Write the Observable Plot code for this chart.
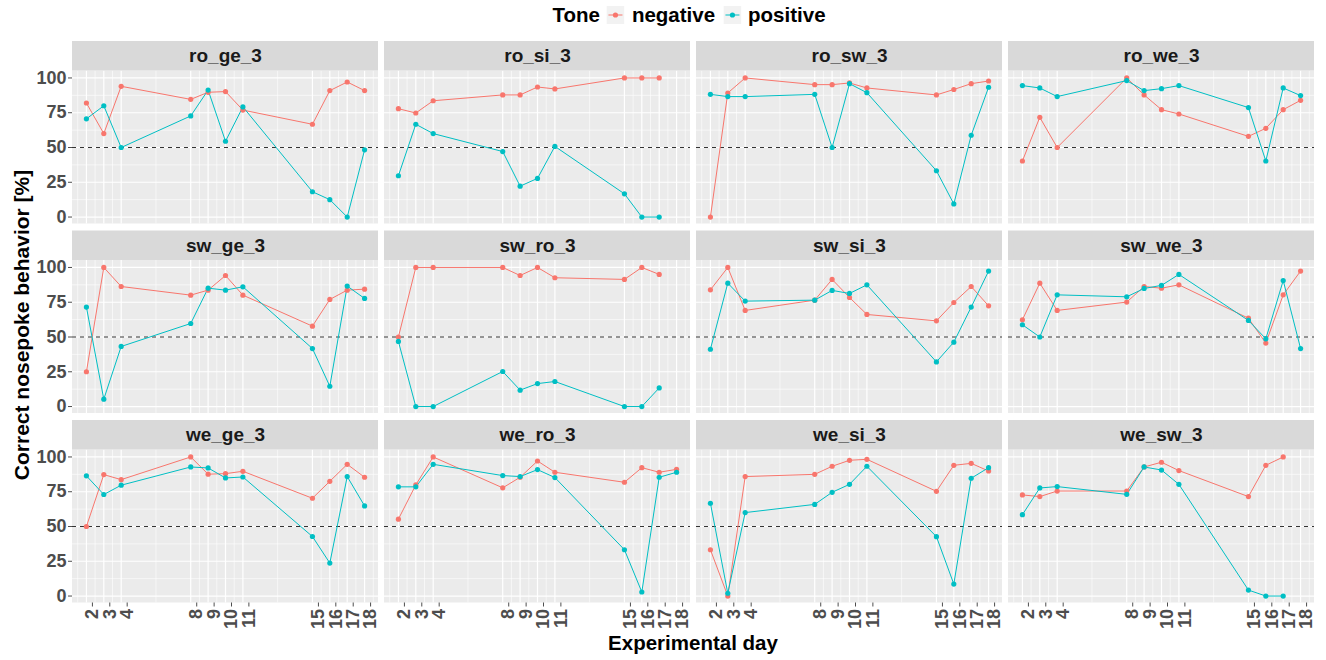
<!DOCTYPE html>
<html>
<head>
<meta charset="utf-8">
<script src="https://cdn.jsdelivr.net/npm/d3@7"></script>
<script src="https://cdn.jsdelivr.net/npm/@observablehq/plot@0.6"></script>
<style>
  html, body { margin: 0; padding: 0; background: #ffffff; }
  body { font-family: "Liberation Sans", Arial, sans-serif; }
  #wrap { position: relative; width: 1326px; height: 660px; overflow: hidden; }
  #chart { position: absolute; left: 0; top: 0; }
  #legend { position: absolute; top: 1px; left: 693px; transform: translateX(-50%); display: flex; align-items: center; font-weight: bold; font-size: 20.5px; color: #000; white-space: nowrap; height: 28px; }
  #legend .title { margin-right: 7px; }
  #legend .key { width: 18px; height: 18px; margin: 0 7px 0 0; display: inline-block; }
  #legend .lab { margin-right: 8px; }
  #ytitle { position: absolute; left: 22px; top: 325px; transform: translate(-50%, -50%) rotate(-90deg); font-weight: bold; font-size: 21px; color: #000; white-space: nowrap; }
  #xtitle { position: absolute; left: 693px; top: 643px; transform: translate(-50%, -50%); font-weight: bold; font-size: 20.5px; color: #000; white-space: nowrap; }
</style>
</head>
<body>
<div id="wrap">
  <div id="chart"></div>
  <div id="legend"></div>
  <div id="ytitle">Correct nosepoke behavior [%]</div>
  <div id="xtitle">Experimental day</div>
</div>
<script>
// ---------------- data ----------------
const days = [2, 3, 4, 8, 9, 10, 11, 15, 16, 17, 18];
const panelNames = ["ro_ge_3", "ro_si_3", "ro_sw_3", "ro_we_3",
                    "sw_ge_3", "sw_ro_3", "sw_si_3", "sw_we_3",
                    "we_ge_3", "we_ro_3", "we_si_3", "we_sw_3"];
const tones = ["negative", "positive"];
const toneColors = ["#F8766D", "#00BFC4"];
const yBreaks = [0, 25, 50, 75, 100];

const ro_ge_3_negative = [82, 60, 94, 84.6, 89.7, 90.2, 76.9, 66.7, 90.9, 97.1, 90.9];
const ro_ge_3_positive = [70.6, 80, 50, 72.7, 91.3, 54.5, 79.2, 18.2, 12.5, 0, 48.3];
const ro_si_3_negative = [77.9, 74.8, 83.6, 87.8, 87.8, 93.5, 92.1, 100, 100, 100];
const ro_si_3_positive = [29.7, 66.7, 60, 47.1, 22.2, 27.8, 50.8, 16.7, 0, 0];
const ro_sw_3_negative = [0, 89.2, 100, 95.2, 95.2, 96.4, 92.8, 87.8, 91.7, 95.9, 97.8];
const ro_sw_3_positive = [88.2, 86.6, 86.6, 88.2, 50, 95.9, 89.4, 33.3, 9.4, 58.8, 93.3];
const ro_we_3_negative = [40.3, 71.7, 50, 100, 87.8, 77.2, 74.1, 58, 63.8, 77.2, 83.9];
const ro_we_3_positive = [94.5, 92.8, 86.6, 98.1, 90.9, 92.3, 94.5, 78.7, 40.3, 92.8, 87.3];
const sw_ge_3_negative = [25, 100, 86.3, 80.1, 83.7, 94.2, 80.1, 57.8, 77, 83.7, 84.4];
const sw_ge_3_positive = [71.5, 5.3, 43.2, 59.7, 85.1, 83.7, 86.1, 41.7, 14.6, 86.6, 77.7];
const sw_ro_3_negative = [50, 100, 100, 100, 94.2, 100, 92.6, 91.4, 100, 95];
const sw_ro_3_positive = [46.8, 0, 0, 25.2, 11.8, 16.5, 18, 0, 0, 13.4];
const sw_si_3_negative = [83.9, 100, 69.1, 76.5, 91.4, 78.4, 66.2, 61.6, 74.8, 86.3, 72.4];
const sw_si_3_positive = [41.2, 88.7, 75.8, 76.5, 83.5, 81.3, 87.5, 32.1, 46.3, 71.5, 97.4];
const sw_we_3_negative = [62.4, 88.7, 69.1, 75.1, 86.3, 85.1, 87.5, 63.5, 45.6, 80.3, 97.4];
const sw_we_3_positive = [58.8, 50, 80.3, 78.9, 84.9, 87.1, 95, 61.9, 48.7, 90.6, 41.7];
const we_ge_3_negative = [50, 87.3, 83.7, 100, 87.6, 88, 89.7, 70.3, 82.5, 94.7, 85.4];
const we_ge_3_positive = [86.4, 73, 79.7, 92.8, 92.1, 84.9, 85.6, 42.8, 23.7, 85.9, 64.8];
const we_ro_3_negative = [55.3, 79.9, 100, 77.8, 85.4, 97.1, 89, 81.8, 92.3, 89, 91.1];
const we_ro_3_positive = [78.5, 78.5, 94.7, 86.6, 85.9, 90.9, 85.2, 33.3, 2.9, 85.4, 89];
const we_si_3_negative = [33.3, 0, 85.9, 87.5, 93.3, 97.6, 98.3, 75.3, 94, 95.4, 89.9];
const we_si_3_positive = [66.7, 2, 60, 65.9, 74.6, 80.3, 93.3, 42.7, 8.6, 84.7, 92.3];
const we_sw_3_negative = [72.7, 71.5, 75.5, 75.5, 92.8, 96.2, 90.2, 71.5, 94, 100];
const we_sw_3_positive = [58.5, 77.7, 78.7, 73.1, 92.8, 90.6, 80.3, 4.3, 0, 0];

const seriesByPanel = {
  ro_ge_3: [ro_ge_3_negative, ro_ge_3_positive],
  ro_si_3: [ro_si_3_negative, ro_si_3_positive],
  ro_sw_3: [ro_sw_3_negative, ro_sw_3_positive],
  ro_we_3: [ro_we_3_negative, ro_we_3_positive],
  sw_ge_3: [sw_ge_3_negative, sw_ge_3_positive],
  sw_ro_3: [sw_ro_3_negative, sw_ro_3_positive],
  sw_si_3: [sw_si_3_negative, sw_si_3_positive],
  sw_we_3: [sw_we_3_negative, sw_we_3_positive],
  we_ge_3: [we_ge_3_negative, we_ge_3_positive],
  we_ro_3: [we_ro_3_negative, we_ro_3_positive],
  we_si_3: [we_si_3_negative, we_si_3_positive],
  we_sw_3: [we_sw_3_negative, we_sw_3_positive]
};

// ---------------- tables ----------------
const nCols = 4;
const panelTable = panelNames.map((name, i) => ({panel: name, col: i % nCols, row: Math.floor(i / nCols)}));
const table = [];
panelTable.forEach(p => {
  seriesByPanel[p.panel].forEach((vals, t) => {
    vals.forEach((v, j) => table.push({panel: p.panel, col: p.col, row: p.row, tone: tones[t], day: days[j], value: v}));
  });
});

// ---------------- scales (ggplot-like expansion) ----------------
const xPad = (d3.max(days) - d3.min(days)) * 0.05;
const xDomain = [d3.min(days) - xPad, d3.max(days) + xPad];
const yPad = (d3.max(yBreaks) - d3.min(yBreaks)) * 0.05;
const yLo = d3.min(yBreaks) - yPad, yHi = d3.max(yBreaks) + yPad;
const step = days[1] - days[0];
const extDays = [days[0] - step, ...days, days[days.length - 1] + step];
const minorX = d3.pairs(extDays).map(([a, b]) => (a + b) / 2).filter(v => v > xDomain[0] && v < xDomain[1]);
const minorY = d3.pairs(yBreaks).map(([a, b]) => (a + b) / 2);

// layout
const W = 1326, H = 660;
const mLeft = 72, mRight = 12, mTop = 41;
const cellH = 182.5, gapY = 7, gapX = 6;
const stripPx = 29.5;
const panelPx = cellH - stripPx;
const yTop = yHi + stripPx * (yHi - yLo) / panelPx;
const mBottom = H - (mTop + 3 * cellH + 2 * gapY);
const pitchX = (W - mLeft - mRight + gapX) / nCols;

const chart = Plot.plot({
  width: W,
  height: H,
  marginLeft: mLeft,
  marginRight: mRight,
  marginTop: mTop,
  marginBottom: mBottom,
  facet: {marginTop: 0, marginRight: 0, marginBottom: 0, marginLeft: 0},
  fx: {domain: [0, 1, 2, 3], paddingInner: gapX / pitchX, paddingOuter: 0, round: false, axis: null, label: null},
  fy: {domain: [0, 1, 2], paddingInner: gapY / (cellH + gapY), paddingOuter: 0, round: false, axis: null, label: null},
  x: {domain: xDomain, label: null},
  y: {domain: [yLo, yTop], label: null},
  color: {domain: tones, range: toneColors},
  style: {fontFamily: "'Liberation Sans', Arial, sans-serif", background: "#ffffff", overflow: "visible"},
  marks: [
    Plot.rect([0], {x1: xDomain[0], x2: xDomain[1], y1: yLo, y2: yHi, fill: "#EBEBEB"}),
    Plot.ruleX(minorX, {y1: yLo, y2: yHi, stroke: "#ffffff", strokeWidth: 0.6}),
    Plot.ruleY(minorY, {x1: xDomain[0], x2: xDomain[1], stroke: "#ffffff", strokeWidth: 0.6}),
    Plot.ruleX(days, {y1: yLo, y2: yHi, stroke: "#ffffff", strokeWidth: 1.2}),
    Plot.ruleY(yBreaks, {x1: xDomain[0], x2: xDomain[1], stroke: "#ffffff", strokeWidth: 1.2}),
    Plot.rect([0], {x1: xDomain[0], x2: xDomain[1], y1: yHi, y2: yTop, fill: "#D9D9D9"}),
    Plot.text(panelTable, {x: (xDomain[0] + xDomain[1]) / 2, y: (yHi + yTop) / 2, text: "panel", fx: "col", fy: "row",
      fontSize: 19, fontWeight: "bold", fill: "#1A1A1A"}),
    Plot.ruleY([50], {x1: xDomain[0], x2: xDomain[1], stroke: "#333333", strokeWidth: 1, strokeDasharray: "4,4"}),
    Plot.line(table, {x: "day", y: "value", z: "tone", stroke: "tone", fx: "col", fy: "row", strokeWidth: 1}),
    Plot.dot(table, {x: "day", y: "value", fill: "tone", r: 2.6, fx: "col", fy: "row"}),
    Plot.axisY({ticks: yBreaks, tickSize: 4, tickPadding: 2, fontSize: 18, fontWeight: "bold", color: "#4D4D4D", label: null}),
    Plot.axisX({ticks: days, tickSize: 4, tickPadding: 2, tickRotate: -90, tickFormat: d => String(d),
      fontSize: 18, fontWeight: "bold", color: "#4D4D4D", label: null, dx: 6})
  ]
});
document.getElementById("chart").appendChild(chart);

// ---------------- legend ----------------
const legend = document.getElementById("legend");
const lt = document.createElement("span");
lt.className = "title";
lt.textContent = "Tone";
legend.appendChild(lt);
tones.forEach((t, i) => {
  const ns = "http://www.w3.org/2000/svg";
  const svg = document.createElementNS(ns, "svg");
  svg.setAttribute("class", "key");
  svg.setAttribute("width", 18);
  svg.setAttribute("height", 18);
  const r = document.createElementNS(ns, "rect");
  r.setAttribute("width", 18); r.setAttribute("height", 18); r.setAttribute("fill", "#F2F2F2");
  const l = document.createElementNS(ns, "line");
  l.setAttribute("x1", 2); l.setAttribute("x2", 16); l.setAttribute("y1", 9); l.setAttribute("y2", 9);
  l.setAttribute("stroke", toneColors[i]); l.setAttribute("stroke-width", 1);
  const c = document.createElementNS(ns, "circle");
  c.setAttribute("cx", 9); c.setAttribute("cy", 9); c.setAttribute("r", 2.6); c.setAttribute("fill", toneColors[i]);
  svg.appendChild(r); svg.appendChild(l); svg.appendChild(c);
  legend.appendChild(svg);
  const lab = document.createElement("span");
  lab.className = "lab";
  lab.textContent = t;
  legend.appendChild(lab);
});
</script>
</body>
</html>
